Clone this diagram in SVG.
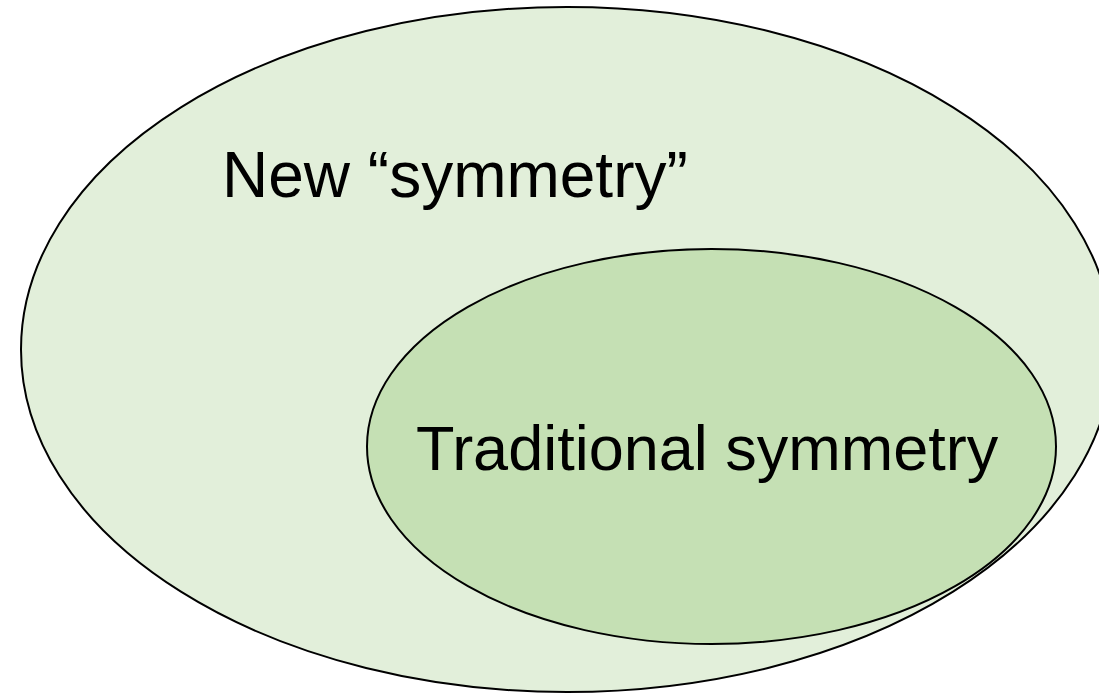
<svg xmlns="http://www.w3.org/2000/svg" width="1099" height="694" viewBox="0 0 1099 694">
<style>
.lbl{font-family:"Liberation Sans",Arial,sans-serif;font-size:64px;fill:#000}
.e{stroke:#000;stroke-width:2}
</style>
<rect width="1099" height="694" fill="#fff"/>
<g id="new-symmetry">
<ellipse class="e" cx="567" cy="349.5" rx="546" ry="342.5" fill="#E2EFDA"/>
<text class="lbl" x="222" y="197">New “symmetry”</text>
</g>
<g id="traditional-symmetry">
<ellipse class="e" cx="711.5" cy="446.5" rx="344.5" ry="197.5" fill="#C5E0B4"/>
<text class="lbl" x="416" y="470" style="font-size:63px">Traditional symmetry</text>
</g>
<g id="connectors"/>
</svg>
